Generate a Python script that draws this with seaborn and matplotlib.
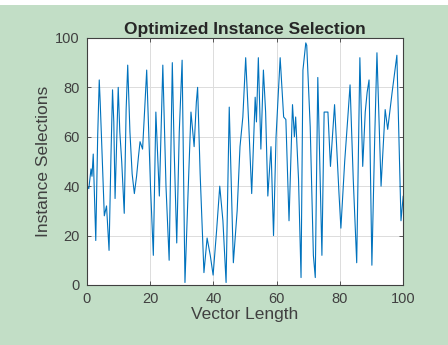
import seaborn as sns
import numpy as np
import pandas as pd
import matplotlib.pyplot as plt
from matplotlib.patches import Rectangle

# turning points
vec_len = [0, 0.6, 1.3, 1.6, 2.0, 2.8, 3.4, 3.9, 4.2, 4.6, 5.5, 6.2, 7.0, 7.6, 8.1,
           8.5, 8.9, 9.9, 10.4, 11.0, 11.8, 12.4, 12.9, 13.6, 14.3, 15.0,
           15.7, 16.3, 16.8, 17.6, 18.3, 18.9, 20.1, 21.0, 21.8, 22.9, 24.0,
           25.0, 26.0, 27.0, 27.6, 28.4, 29.2, 30.1, 31.0,
           32.0, 32.9, 33.9, 34.6, 35.0, 35.8, 37.0, 38.0, 39.0, 39.9, 41.0,
           42.0, 43.0, 44.0, 45.0, 46.3, 47.5, 48.4, 49.3,
           50.2, 51.2, 52.1, 53.2, 53.6, 54.2, 55.0, 55.8, 56.5, 57.2, 58.2, 59.0,
           59.8, 61.1, 62.2, 62.9, 63.9, 65.0, 65.6, 66.0, 66.9, 67.7, 68.3, 69.2,
           69.5, 70.6, 71.6, 72.2, 73.0, 74.3, 75.0, 76.2, 77.0, 78.3, 79.0, 79.7,
           80.3, 81.5, 82.5, 83.2, 84.2, 85.3, 86.3, 87.2, 88.0, 88.6, 89.2, 90.1,
           91.0, 91.7, 93.0, 94.3, 95.1, 96.5, 98.0, 99.3, 100.0]
selections = [40, 39, 47, 44, 53, 18, 60, 83, 74, 60, 28, 32, 14, 52, 79,
              66, 35, 80, 62, 50, 29, 71, 89, 62, 45, 37,
              44, 52, 58, 55, 72, 87, 40, 12, 70, 36, 89,
              40, 10, 90, 54, 17, 62, 91, 1,
              38, 70, 56, 74, 80, 45, 5, 19, 12, 4, 22,
              40, 26, 1, 72, 9, 30, 56, 68,
              92, 64, 37, 76, 66, 92, 55, 87, 70, 36, 56, 20,
              60, 92, 68, 67, 26, 73, 60, 68, 43, 3, 87, 98,
              97, 64, 12, 3, 84, 12, 70, 70, 48, 73, 55, 37,
              23, 50, 68, 81, 43, 9, 92, 48, 70, 78, 83, 8,
              60, 94, 40, 71, 63, 78, 93, 26, 36]

df = pd.DataFrame({'Vector Length': vec_len, 'Instance Selections': selections})

sns.set_style("whitegrid")
plt.rcParams['font.family'] = ['Liberation Sans', 'DejaVu Sans']

fig = plt.figure(figsize=(4.48, 3.45), dpi=100)
fig.patch.set_facecolor('#c2dec6')
fig.patches.append(Rectangle((0, 0.985), 1, 0.015, transform=fig.transFigure,
                             facecolor='white', edgecolor='none', zorder=-1))
ax = fig.add_axes([0.194, 0.174, 0.706, 0.716])

sns.lineplot(data=df, x='Vector Length', y='Instance Selections', ax=ax,
             color='#0072BD', linewidth=0.8)

ax.set_xlim(0, 100)
ax.set_ylim(0, 100)
ax.set_xticks(range(0, 101, 20))
ax.set_yticks(range(0, 101, 20))
ax.grid(True, color='#dcdcdc', linewidth=0.7)
for s in ax.spines.values():
    s.set_color('#404040')
    s.set_linewidth(0.8)
ax.tick_params(direction='in', length=3, width=0.6, color='#404040',
               labelsize=10.5, labelcolor='#404040', left=True, bottom=True,
               top=True, right=True, pad=5)
ax.set_xlabel('Vector Length', fontsize=12.5, color='#404040', labelpad=1)
ax.set_ylabel('Instance Selections', fontsize=12.5, color='#404040', labelpad=3)
ax.set_title('Optimized Instance Selection', fontsize=12.5, fontweight='bold', pad=3)

fig.savefig('out.png', dpi=100, facecolor=fig.get_facecolor())
